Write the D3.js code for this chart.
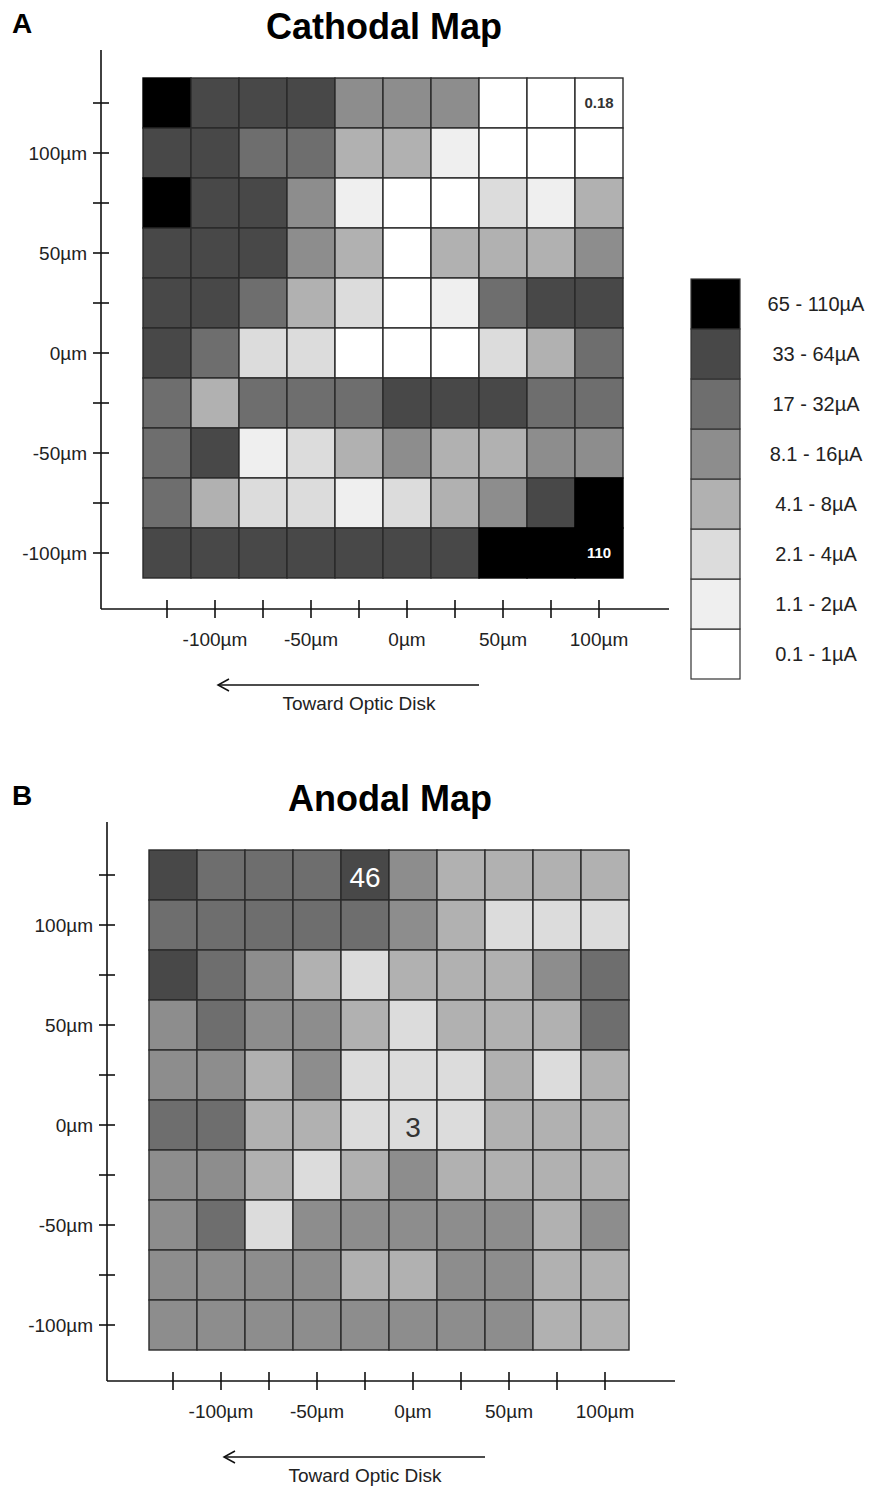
<!DOCTYPE html>
<head>
  <meta charset="utf-8">
  <script src="https://d3js.org/d3.v7.min.js"></script>
  <style>
    body { margin:0; background:#fff; }
    text { font-family: "Liberation Sans", Arial, sans-serif; }
  </style>
</head>

<body>
  <script>

// electrode offsets (µm), columns left -> right, rows top -> bottom
var xPositions = [-125, -100, -75, -50, -25, 0, 25, 50, 75, 100];
var yPositions = [125, 100, 75, 50, 25, 0, -25, -50, -75, -100];

// threshold bins, lowest first
var bins = ["0.1 - 1µA", "1.1 - 2µA", "2.1 - 4µA", "4.1 - 8µA",
            "8.1 - 16µA", "17 - 32µA", "33 - 64µA", "65 - 110µA"];
var binGrays = ["#ffffff", "#efefef", "#dcdcdc", "#b1b1b1",
                "#8d8d8d", "#6e6e6e", "#484848", "#000000"];

// bin index
var cathodalLevels = [
  [7, 6, 6, 6, 4, 4, 4, 0, 0, 0],
  [6, 6, 5, 5, 3, 3, 1, 0, 0, 0],
  [7, 6, 6, 4, 1, 0, 0, 2, 1, 3],
  [6, 6, 6, 4, 3, 0, 3, 3, 3, 4],
  [6, 6, 5, 3, 2, 0, 1, 5, 6, 6],
  [6, 5, 2, 2, 0, 0, 0, 2, 3, 5],
  [5, 3, 5, 5, 5, 6, 6, 6, 5, 5],
  [5, 6, 1, 2, 3, 4, 3, 3, 4, 4],
  [5, 3, 2, 2, 1, 2, 3, 4, 6, 7],
  [6, 6, 6, 6, 6, 6, 6, 7, 7, 7]
];
var anodalLevels = [
  [6, 5, 5, 5, 6, 4, 3, 3, 3, 3],
  [5, 5, 5, 5, 5, 4, 3, 2, 2, 2],
  [6, 5, 4, 3, 2, 3, 3, 3, 4, 5],
  [4, 5, 4, 4, 3, 2, 3, 3, 3, 5],
  [4, 4, 3, 4, 2, 2, 2, 3, 2, 3],
  [5, 5, 3, 3, 2, 2, 2, 3, 3, 3],
  [4, 4, 3, 2, 3, 4, 3, 3, 3, 3],
  [4, 5, 2, 4, 4, 4, 4, 4, 3, 4],
  [4, 4, 4, 4, 3, 3, 4, 4, 3, 3],
  [4, 4, 4, 4, 4, 4, 4, 4, 3, 3]
];

// min / max values written in cells
var cathodalNotes = [{row: 0, col: 9, text: "0.18"}, {row: 9, col: 9, text: "110"}];
var anodalNotes = [{row: 0, col: 4, text: "46"}, {row: 5, col: 5, text: "3"}];

var svg = d3.select("body").append("svg")
  .attr("width", 885)
  .attr("height", 1487);

var gray = d3.scaleOrdinal().domain(d3.range(bins.length)).range(binGrays);

var x = d3.scaleBand().domain(xPositions).range([143, 623]);
var y = d3.scaleBand().domain(yPositions).range([78, 578]);

function drawMap(levels, notes, title, letter, dx, dy, noteStyle) {
  svg.append("text")
    .attr("x", 12).attr("y", dy + 33)
    .attr("font-size", 28).attr("font-weight", "bold")
    .text(letter);

  var g = svg.append("g").attr("transform", "translate(" + dx + "," + dy + ")");

  g.append("text")
    .attr("x", 384).attr("y", 39)
    .attr("text-anchor", "middle")
    .attr("font-size", 36).attr("font-weight", "bold")
    .text(title);

  var cells = [];
  levels.forEach(function(row, r) {
    row.forEach(function(lv, c) {
      cells.push({r: r, c: c, px: xPositions[c], py: yPositions[r], lv: lv});
    });
  });

  g.selectAll(".cell")
    .data(cells)
    .enter()
    .append("rect")
    .attr("class", "cell")
    .attr("x", function(d) { return x(d.px); })
    .attr("y", function(d) { return y(d.py); })
    .attr("width", x.bandwidth())
    .attr("height", y.bandwidth())
    .attr("fill", function(d) { return gray(d.lv); })
    .attr("stroke", function(d) { return d.lv == 7 ? "#000" : "#2a2a2a"; })
    .attr("stroke-width", 1.4);

  g.selectAll(".note")
    .data(notes)
    .enter()
    .append("text")
    .attr("class", "note")
    .attr("x", function(d) { return x(xPositions[d.col]) + x.bandwidth() / 2; })
    .attr("y", function(d) { return y(yPositions[d.row]) + y.bandwidth() / 2 + noteStyle.dy; })
    .attr("text-anchor", "middle")
    .attr("font-size", noteStyle.size)
    .attr("font-weight", noteStyle.weight)
    .attr("fill", function(d) { return levels[d.row][d.col] >= 5 ? "#fff" : "#333"; })
    .text(function(d) { return d.text; });

  // axes
  g.append("line").attr("x1", 101).attr("x2", 101).attr("y1", 50).attr("y2", 609)
    .attr("stroke", "#111").attr("stroke-width", 1.6);
  g.append("line").attr("x1", 101).attr("x2", 669).attr("y1", 609).attr("y2", 609)
    .attr("stroke", "#111").attr("stroke-width", 1.6);

  var xAxis = g.append("g")
    .attr("transform", "translate(0,609)")
    .call(d3.axisBottom(x).tickSize(9).tickFormat(function(d) { return d % 50 == 0 ? d + "µm" : ""; }));
  var yAxis = g.append("g")
    .attr("transform", "translate(101,0)")
    .call(d3.axisLeft(y).tickSize(8).tickFormat(function(d) { return d % 50 == 0 ? d + "µm" : ""; }));

  [xAxis, yAxis].forEach(function(a) {
    a.select(".domain").remove();
    a.selectAll("line").attr("stroke", "#111").attr("stroke-width", 1.6);
    a.selectAll("text").attr("font-size", 19).attr("fill", "#222")
      .attr("font-family", "Liberation Sans, Arial, sans-serif");
  });
  xAxis.selectAll("line").attr("y1", -9).attr("y2", 9);
  xAxis.selectAll("text").attr("y", 37).attr("dy", 0);
  yAxis.selectAll("line").attr("x1", -8).attr("x2", 8);
  yAxis.selectAll("text").attr("x", -14).attr("dy", "0.35em");

  // direction arrow
  g.append("line").attr("x1", 218).attr("x2", 479).attr("y1", 685).attr("y2", 685)
    .attr("stroke", "#111").attr("stroke-width", 1.5);
  g.append("path").attr("d", "M229,679 L218,685 L229,691")
    .attr("fill", "none").attr("stroke", "#111").attr("stroke-width", 1.5);
  g.append("text")
    .attr("x", 359).attr("y", 710)
    .attr("text-anchor", "middle")
    .attr("font-size", 19).attr("fill", "#222")
    .text("Toward Optic Disk");
}

drawMap(cathodalLevels, cathodalNotes, "Cathodal Map", "A", 0, 0,
  {size: 15, weight: "bold", dy: 5});
drawMap(anodalLevels, anodalNotes, "Anodal Map", "B", 6, 772,
  {size: 28, weight: "normal", dy: 12});

// legend (cathodal panel only), highest bin on top
var legendY = d3.scaleBand().domain(d3.range(bins.length).reverse()).range([279, 679]);
var legend = svg.append("g");
legend.selectAll("rect")
  .data(d3.range(bins.length))
  .enter()
  .append("rect")
  .attr("x", 691)
  .attr("y", function(d) { return legendY(d); })
  .attr("width", 49)
  .attr("height", legendY.bandwidth())
  .attr("fill", function(d) { return gray(d); })
  .attr("stroke", "#333")
  .attr("stroke-width", 1.2);
legend.selectAll("text")
  .data(d3.range(bins.length))
  .enter()
  .append("text")
  .attr("x", 816)
  .attr("y", function(d) { return legendY(d) + legendY.bandwidth() / 2; })
  .attr("dy", "0.35em")
  .attr("text-anchor", "middle")
  .attr("font-size", 20)
  .attr("fill", "#222")
  .text(function(d) { return bins[d]; });

  </script>
</body>
